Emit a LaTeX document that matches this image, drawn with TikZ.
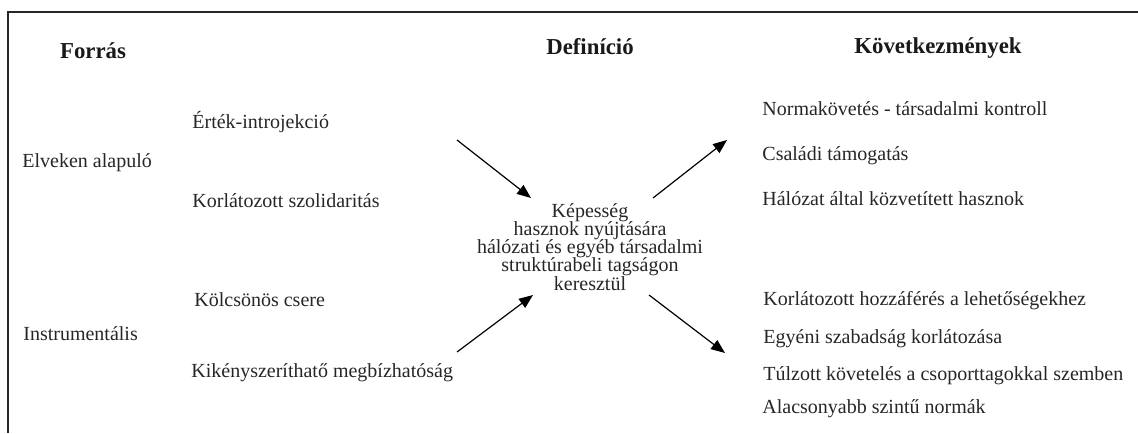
\documentclass[tikz,border=0pt]{standalone}
\usepackage{fontspec}
\setmainfont{Liberation Serif}
\usetikzlibrary{arrows.meta}
\tikzset{>={Triangle[length=7pt,width=5.5pt]}}
\tikzset{
  item/.style = {anchor=base west, inner sep=0pt, text=black!85, font=\fontsize{10}{12}\selectfont},
  head/.style = {anchor=base, inner sep=0pt, text=black!90, font=\fontsize{11.4}{13}\selectfont\bfseries},
  frameline/.style = {line width=0.7pt, black!85}
}

\begin{document}
\begin{tikzpicture}[x=0.5pt,y=-0.5pt]
  \useasboundingbox (0,0) rectangle (1138,433);
  % frame
  \draw[frameline] (1138,12) -- (8,12) -- (8,433);
  % headings
  \node[head] (forras) at (93,59) {Forrás};
  \node[head] (definicio) at (590,55) {Definíció};
  \node[head] (kovetk) at (938,54) {Következmények};
  % sources
  \node[item] (elveken) at (22,167) {Elveken alapuló};
  \node[item] (instrum) at (23,340) {Instrumentális};
  \node[item] (ertek) at (192,128) {Érték-introjekció};
  \node[item] (korlsz) at (192,207) {Korlátozott szolidaritás};
  \node[item] (kolcs) at (194,306) {Kölcsönös csere};
  \node[item] (kikeny) at (191,377) {Kikényszeríthatő megbízhatóság};
  % definition
  \node[inner sep=0pt, anchor=north, align=center, text=black!85,
        font={\fontsize{10}{9.1}\selectfont\lineskiplimit=-20pt}] (kepesseg) at (590,203)
        {Képesség\\hasznok nyújtására\\hálózati és egyéb társadalmi\\struktúrabeli tagságon\\keresztül};
  % consequences
  \node[item] (norma) at (762,115) {Normakövetés - társadalmi kontroll};
  \node[item] (csaladi) at (762,160) {Családi támogatás};
  \node[item] (halozat) at (762,205) {Hálózat által közvetített hasznok};
  \node[item] (korlhozz) at (763,305) {Korlátozott hozzáférés a lehetőségekhez};
  \node[item] (egyeni) at (763,343) {Egyéni szabadság korlátozása};
  \node[item] (tulzott) at (763,380) {Túlzott követelés a csoporttagokkal szemben};
  \node[item] (alacsony) at (762,413) {Alacsonyabb szintű normák};
  % arrow ends
  \coordinate (in1) at (457,140);  \coordinate (def1) at (531,198);
  \coordinate (in2) at (457,352);  \coordinate (def2) at (533,295);
  \coordinate (def3) at (653,198); \coordinate (out1) at (727,140);
  \coordinate (def4) at (649,295); \coordinate (out2) at (725,353);
  % arrows
  \draw[->,line width=0.6pt] (in1) -- (def1);
  \draw[->,line width=0.6pt] (in2) -- (def2);
  \draw[->,line width=0.6pt] (def3) -- (out1);
  \draw[->,line width=0.6pt] (def4) -- (out2);
\end{tikzpicture}
\end{document}
